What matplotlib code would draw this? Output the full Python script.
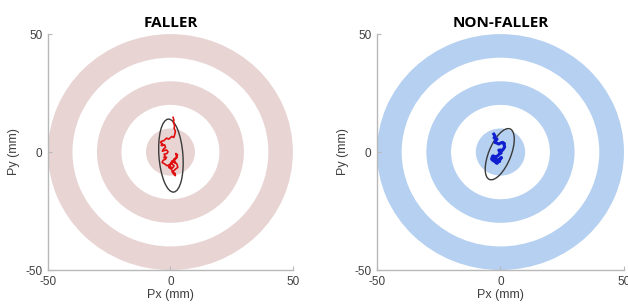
import matplotlib.pyplot as plt
from matplotlib.patches import Wedge, Ellipse

plt.rcParams["axes.unicode_minus"] = False

# =========================
# DATA
# =========================

ring_outer = [50, 30, 10]
ring_inner = [40, 20, 0]

# faller COP trace (mm)
faller_x = [1.1, 1.4, 1.2, 1.7, 1.5, 2.0, 1.8, 1.4, 0.6, -0.7, -1.6, -2.7, -3.6, -4.1,
            -3.2, -3.8, -3.4, -2.4, -2.0, -2.9, -3.3, -2.7, -1.6, -1.0, -1.4, -2.6,
            -2.2, -2.7, -1.6, -2.0, -3.0, -3.4, -2.4, -1.4, -0.6, 0.0, 0.9, 1.4, 2.5,
            2.9, 2.2, 2.6, 1.6, 2.0, 2.7, 3.0, 2.1, 1.4, 0.7, 1.3, 2.0, 1.9, 1.2, 0.3,
            -0.7, -0.2, 0.4, 1.5, 0.8, -0.4, 0.6, 1.8]
faller_y = [14.7, 13.5, 12.6, 11.2, 10.1, 8.9, 7.6, 6.2, 6.6, 5.5, 5.9, 4.8, 4.6, 4.1,
            3.5, 2.9, 2.7, 3.1, 2.0, 1.2, 0.4, 0.6, 0.9, 0.1, -0.6, -0.9, -1.6, -2.4,
            -2.2, -3.0, -3.5, -4.4, -5.0, -5.8, -5.4, -5.1, -4.2, -3.0, -2.2, -1.2,
            -0.6, -2.5, -3.3, -4.4, -5.2, -6.5, -7.2, -7.9, -8.4, -9.3, -10.0, -9.0,
            -8.6, -7.2, -6.5, -5.6, -4.8, -5.9, -6.8, -6.0, -3.8, -4.6]

# non-faller COP trace (mm)
nonfaller_x = [-2.7, -2.2, -2.6, -1.4, -1.9, -2.3, -1.5, -0.7, 0.2, 0.9, 1.6, 1.4,
               1.7, 1.2, 0.6, -0.1, -0.7, -0.2, 0.3, -0.4, -1.0, -1.8, -2.5, -3.1,
               -3.4, -3.6, -3.0, -2.3, -1.8, -1.4, -0.9, -0.7, 0.0, 0.4, -0.2,
               -0.4, -1.2, -2.0, -2.8, -2.1]
nonfaller_y = [7.6, 6.8, 6.0, 5.5, 4.8, 4.1, 3.8, 3.4, 3.9, 4.1, 3.6, 3.2,
               2.2, 1.3, 0.6, 0.9, 0.8, 0.0, -0.4, -0.8, -1.5, -2.0, -1.8, -1.6,
               -2.3, -3.0, -3.6, -4.0, -4.5, -4.8, -4.2, -3.4, -2.8, -2.3, -3.0,
               -4.0, -3.6, -2.6, -2.9, -3.8]

# 95% confidence ellipses: center x, center y, major, minor, angle
faller_ell = (0.2, -1.5, 31.0, 9.8, 94)
nonfaller_ell = (-0.3, -0.9, 23.0, 9.0, 69)

panels = [
    ("FALLER", "#e9d4d4", faller_x, faller_y, "#e01010", 1.2, faller_ell),
    ("NON-FALLER", "#b5d0f0", nonfaller_x, nonfaller_y, "#1020d0", 2.2, nonfaller_ell),
]

# =========================
# PLOT
# =========================

fig = plt.figure(figsize=(6.28, 3.04), dpi=100)
positions = [[0.0764, 0.1118, 0.390, 0.776], [0.6003, 0.1118, 0.3933, 0.776]]

for pos, (title, ring_col, tx, ty, tcol, tlw, ell) in zip(positions, panels):
    ax = fig.add_axes(pos)
    for ro, ri in zip(ring_outer, ring_inner):
        ax.add_patch(Wedge((0, 0), ro, 0, 360, width=ro - ri, facecolor=ring_col,
                           edgecolor="none", zorder=1))
    cx, cy, major, minor, ang = ell
    ax.add_patch(Ellipse((cx, cy), major, minor, angle=ang, facecolor="none",
                         edgecolor="#3a3a3a", linewidth=1.0, zorder=3))
    ax.plot(tx, ty, color=tcol, linewidth=tlw, zorder=4)

    ax.set_xlim(-50, 50)
    ax.set_ylim(-50, 50)
    ax.set_xticks([-50, 0, 50])
    ax.set_yticks([-50, 0, 50])
    for s in ["top", "right"]:
        ax.spines[s].set_visible(False)
    for s in ["left", "bottom"]:
        ax.spines[s].set_color("#b8b8b8")
        ax.spines[s].set_linewidth(1.0)
    ax.tick_params(direction="in", length=3, color="#b8b8b8", labelsize=8.5,
                   labelcolor="#404040", pad=4)
    for lab in ax.get_xticklabels() + ax.get_yticklabels():
        lab.set_family("Liberation Sans")
    ax.set_xlabel("Px (mm)", fontsize=9, color="#404040", family="Liberation Sans",
                  labelpad=1)
    ax.set_ylabel("Py (mm)", fontsize=9, color="#404040", family="Liberation Sans",
                  labelpad=4)
    ax.set_title(title, fontsize=11, fontweight="bold", family="Open Sans", pad=5)

fig.savefig("out.png", dpi=100)
